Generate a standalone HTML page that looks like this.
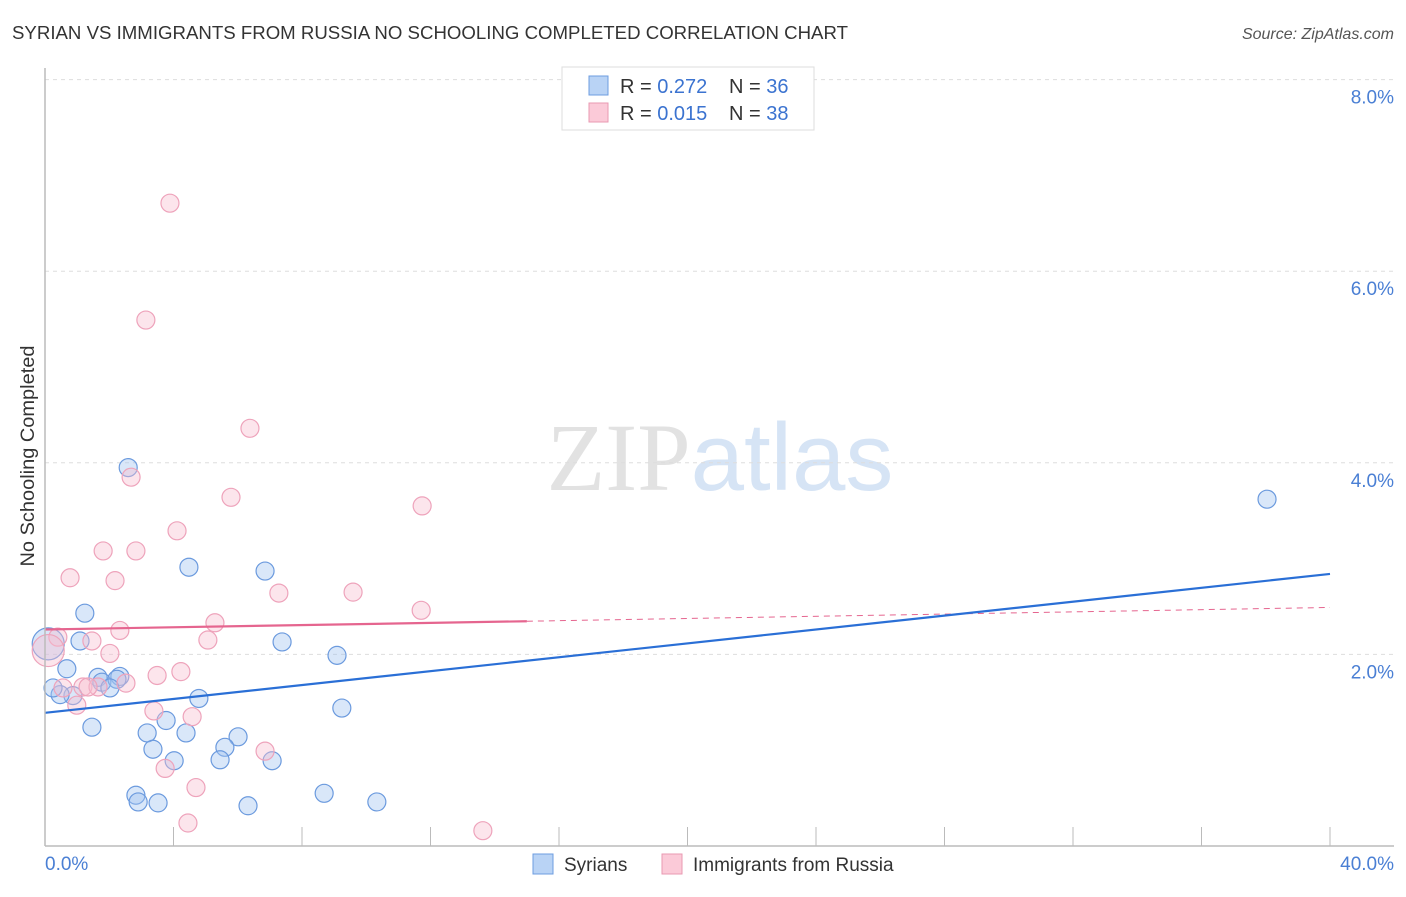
<!DOCTYPE html>
<html><head><meta charset="utf-8"><style>
body{margin:0;background:#fff;font-family:"Liberation Sans",sans-serif;}
svg text{font-family:"Liberation Sans",sans-serif;}
</style></head><body>
<svg id="chart" width="1406" height="892" viewBox="0 0 1406 892" xmlns="http://www.w3.org/2000/svg">
<text x="12" y="39" font-size="18" fill="#333" textLength="836" lengthAdjust="spacingAndGlyphs">SYRIAN VS IMMIGRANTS FROM RUSSIA NO SCHOOLING COMPLETED CORRELATION CHART</text>
<text x="1394" y="39" font-size="16" fill="#555" text-anchor="end" font-style="italic">Source: ZipAtlas.com</text>
<text x="720" y="490" font-size="96" text-anchor="middle"><tspan fill="#e2e2e2" font-family="Liberation Serif">ZIP</tspan><tspan fill="#d6e4f5">atlas</tspan></text>
<text transform="translate(34,456) rotate(-90)" font-size="19" fill="#333" text-anchor="middle" textLength="221" lengthAdjust="spacingAndGlyphs">No Schooling Completed</text>
<g id="grid"></g><g id="ticks"></g><g id="marks"></g>
<line x1="45" y1="846" x2="1394" y2="846" stroke="#bbb" stroke-width="1.5"/>
<line x1="45" y1="68" x2="45" y2="846" stroke="#bbb" stroke-width="1.5"/>
<text x="45" y="870" font-size="19" fill="#4a7fd4">0.0%</text>
<text x="1394" y="870" font-size="19" fill="#4a7fd4" text-anchor="end">40.0%</text>
<g>
<rect x="562" y="67" width="252" height="63" fill="#fff" stroke="#ddd"/>
<rect x="589" y="76" width="19" height="19" fill="#b9d3f5" stroke="#6d9de0"/>
<rect x="589" y="103" width="19" height="19" fill="#fbcad8" stroke="#e899b2"/>
<text x="620" y="93" font-size="20" fill="#333">R = <tspan fill="#3b73d0">0.272</tspan></text>
<text x="729" y="93" font-size="20" fill="#333">N = <tspan fill="#3b73d0">36</tspan></text>
<text x="620" y="120" font-size="20" fill="#333">R = <tspan fill="#3b73d0">0.015</tspan></text>
<text x="729" y="120" font-size="20" fill="#333">N = <tspan fill="#3b73d0">38</tspan></text>
</g>
<g>
<rect x="533" y="854" width="20" height="20" fill="#b9d3f5" stroke="#6d9de0"/>
<text x="564" y="871" font-size="19" fill="#333">Syrians</text>
<rect x="662" y="854" width="20" height="20" fill="#fbcad8" stroke="#e899b2"/>
<text x="693" y="871" font-size="19" fill="#333">Immigrants from Russia</text>
</g>
</svg>
<script>
const yTicks=[2,4,6,8];
const xTicks=[4,8,12,16,20,24,28,32,36,40];
const syrX=[2.59,4.48,6.85,1.24,1.09,7.38,9.09,0.68,1.65,1.77,2.33,2.24,2.02,0.87,0.47,0.25,4.79,9.24,1.46,3.18,3.77,4.39,3.36,6.01,5.60,4.02,5.45,7.07,2.83,2.90,3.52,6.32,8.69,10.33,38.04,0.10];
const syrY=[3.95,2.91,2.87,2.43,2.14,2.13,1.99,1.85,1.76,1.71,1.77,1.74,1.65,1.57,1.58,1.65,1.54,1.44,1.24,1.18,1.31,1.18,1.01,1.14,1.03,0.89,0.90,0.89,0.53,0.46,0.45,0.42,0.55,0.46,3.62,2.11];
const syrR=[9,9,9,9,9,9,9,9,9,9,9,9,9,9,9,9,9,9,9,9,9,9,9,9,9,9,9,9,9,9,9,9,9,9,9,16];
const rusX=[3.89,3.14,6.38,2.68,5.79,11.74,4.11,1.81,2.83,0.78,2.18,7.28,9.59,11.71,5.29,2.33,5.07,1.46,0.40,2.02,3.49,4.23,2.52,1.18,1.65,0.56,0.99,3.39,4.58,6.85,4.70,3.74,4.45,13.63,0.10,1.34];
const rusY=[6.71,5.49,4.36,3.85,3.64,3.55,3.29,3.08,3.08,2.80,2.77,2.64,2.65,2.46,2.33,2.25,2.15,2.14,2.18,2.01,1.78,1.82,1.70,1.66,1.66,1.65,1.47,1.41,1.35,0.99,0.61,0.81,0.24,0.16,2.04,1.66];
const rusR=[9,9,9,9,9,9,9,9,9,9,9,9,9,9,9,9,9,9,9,9,9,9,9,9,9,9,9,9,9,9,9,9,9,9,16,9];
const syrTrend=[1.39,2.84];
const rusTrend=[2.26,2.49];
const rusSolidEnd=15;
const sx=v=>45+v*32.125, sy=v=>846-v*95.8;
const NS="http://www.w3.org/2000/svg";
function mk(tag,attrs,parent){const e=document.createElementNS(NS,tag);for(const k in attrs)e.setAttribute(k,attrs[k]);document.getElementById(parent).appendChild(e);return e;}
yTicks.forEach(t=>{
 const l=mk('line',{x1:45,x2:1394,y1:sy(t),y2:sy(t),stroke:'#ddd','stroke-dasharray':'4,4'},'grid');
 
 
 const tx=mk('text',{x:1394,y:sy(t)+24,'font-size':19,fill:'#4a7fd4','text-anchor':'end'},'grid');
 tx.textContent=t.toFixed(1)+'%';
 
 
});
xTicks.forEach(t=>{
 const l=mk('line',{x1:sx(t),x2:sx(t),y1:827,y2:846,stroke:'#bbb'},'ticks');
 
 
});
syrX.forEach((x,i)=>{
 const c=mk('circle',{cx:sx(x),cy:sy(syrY[i]),r:syrR[i],fill:'rgba(160,196,240,0.4)',stroke:'#6b9ade','stroke-width':1.2},'marks');
 
 
});
rusX.forEach((x,i)=>{
 const c=mk('circle',{cx:sx(x),cy:sy(rusY[i]),r:rusR[i],fill:'rgba(248,190,208,0.4)',stroke:'#eea3bb','stroke-width':1.2},'marks');
 
 
});
const rAt=v=>rusTrend[0]+(rusTrend[1]-rusTrend[0])*v/40;
let l1=mk('line',{x1:sx(0),y1:sy(rusTrend[0]),x2:sx(rusSolidEnd),y2:sy(rAt(rusSolidEnd)),stroke:'#e5658f','stroke-width':2.2},'marks');


let l2=mk('line',{x1:sx(rusSolidEnd),y1:sy(rAt(rusSolidEnd)),x2:sx(40),y2:sy(rusTrend[1]),stroke:'#e5658f','stroke-width':1,'stroke-dasharray':'6,5'},'marks');


let l3=mk('line',{x1:sx(0),y1:sy(syrTrend[0]),x2:sx(40),y2:sy(syrTrend[1]),stroke:'#2a6fd6','stroke-width':2.2},'marks');


</script>
</body></html>
